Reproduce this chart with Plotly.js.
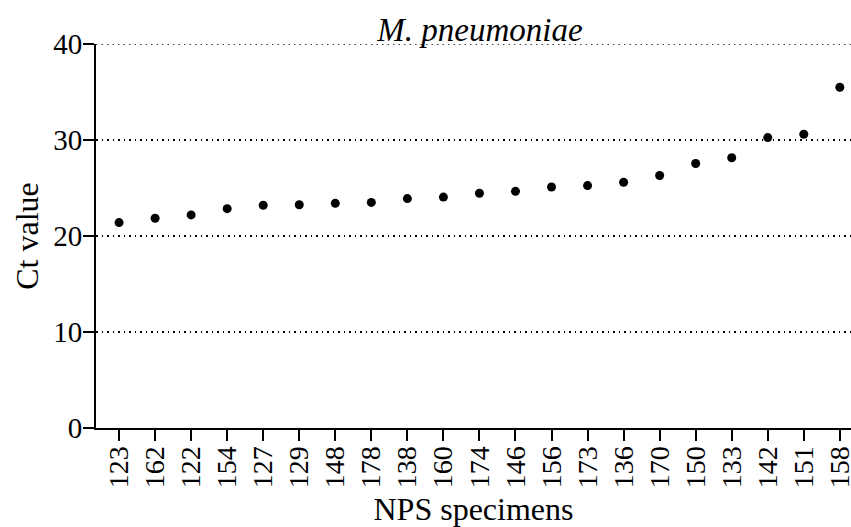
<!DOCTYPE html>
<html>
<head>
<meta charset="utf-8">
<script src="https://cdn.plot.ly/plotly-3.0.1.min.js"></script>
<style>html,body{margin:0;padding:0;background:#fff;}#chart{width:851px;height:527px;}</style>
</head>
<body>
<div id="chart"></div>
<script>
const specimens = ["123","162","122","154","127","129","148","178","138","160","174","146","156","173","136","170","150","133","142","151","158"];
const ctValues = [21.4, 21.85, 22.2, 22.85, 23.2, 23.25, 23.4, 23.5, 23.9, 24.05, 24.45, 24.65, 25.1, 25.25, 25.6, 26.3, 27.55, 28.15, 30.25, 30.6, 35.5];
const yTicks = [0, 10, 20, 30, 40];

const font = "Liberation Serif, Times New Roman, serif";
const gridDash = "1.5px,4px";

const trace = {
  type: "scatter",
  mode: "markers",
  x: specimens,
  y: ctValues,
  marker: {color: "#000", size: 9},
  hoverinfo: "skip"
};

const layout = {
  width: 851, height: 527,
  margin: {l: 96, r: 0, t: 44, b: 99},
  paper_bgcolor: "#fff", plot_bgcolor: "#fff",
  showlegend: false,
  font: {family: font, color: "#000"},
  title: {
    text: "<i>M. pneumoniae</i>",
    font: {family: font, size: 33, color: "#000"},
    xref: "container", x: 0.564, xanchor: "center",
    yref: "container", y: 0.945, yanchor: "middle"
  },
  xaxis: {
    type: "category",
    categoryorder: "array",
    categoryarray: specimens,
    range: [-0.64, 20.31],
    showline: true, linecolor: "#000", linewidth: 2,
    ticks: "outside", ticklen: 11, tickwidth: 2, tickcolor: "#000",
    tickangle: -90,
    ticklabelstandoff: -6,
    tickfont: {family: font, size: 28, color: "#000"},
    showgrid: false, zeroline: false,
    title: {text: "NPS specimens", font: {family: font, size: 32, color: "#000"}, standoff: 15}
  },
  yaxis: {
    range: [0, 40],
    tickvals: yTicks,
    ticktext: yTicks.map(String),
    showline: true, linecolor: "#000", linewidth: 2,
    ticks: "outside", ticklen: 11, tickwidth: 2, tickcolor: "#000",
    ticklabelstandoff: -5,
    tickfont: {family: font, size: 29, color: "#000"},
    showgrid: true, gridcolor: "#000", gridwidth: 1.5, griddash: gridDash,
    zeroline: false,
    title: {text: "Ct value", font: {family: font, size: 32, color: "#000"}, standoff: 5}
  },
  shapes: [{
    type: "line", xref: "paper", x0: 0, x1: 1,
    yref: "y", y0: yTicks[yTicks.length - 1], y1: yTicks[yTicks.length - 1],
    line: {color: "#000", width: 1.5, dash: gridDash}, layer: "below"
  }]
};

Plotly.newPlot("chart", [trace], layout, {staticPlot: true, displayModeBar: false});
</script>
</body>
</html>
